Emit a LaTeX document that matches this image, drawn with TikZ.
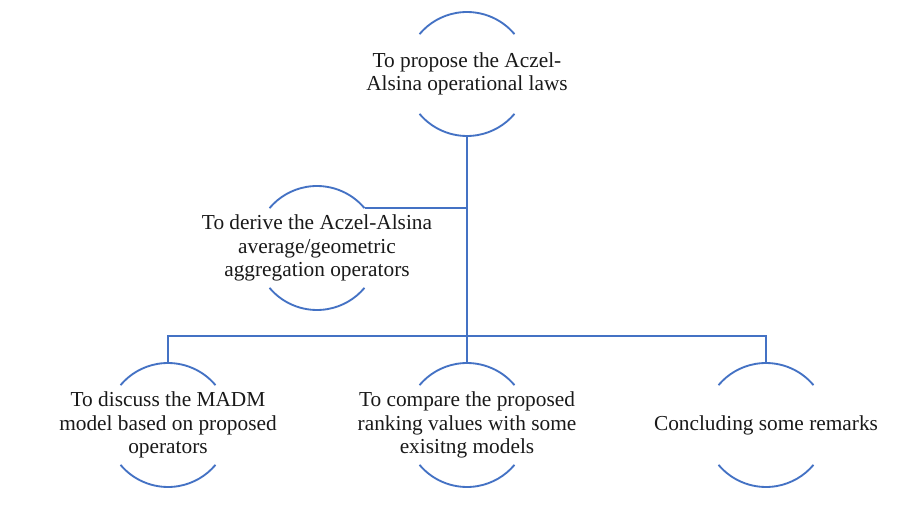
\documentclass[tikz,border=0pt]{standalone}
\usepackage{fontspec}
\setmainfont{Liberation Serif}
\usepackage{tikz}
\definecolor{ringblue}{HTML}{4472C4}
\tikzset{
	goal/.style={align=center,inner sep=0pt,text=black!90,font=\fontsize{16}{17.6}\selectfont},
	ring/.style={draw=ringblue,line width=1.4pt},
	link/.style={draw=ringblue,line width=1.4pt},
}
\begin{document}
\begin{tikzpicture}[x=0.75pt,y=-0.75pt]
	\useasboundingbox (0,0) rectangle (920,516);
	%goals
	\node[goal] (laws) at (467,74) {To propose the Aczel-\\Alsina operational laws};
	\node[goal] (operators) at (317,248) {To derive the Aczel-Alsina\\average/geometric\\aggregation operators};
	\node[goal] (madm) at (168,425) {To discuss the MADM\\model based on proposed\\operators};
	\node[goal] (compare) at (467,425) {To compare the proposed\\ranking values with some\\exisitng models};
	\node[goal] (remarks) at (766,425) {Concluding some remarks};
	%ring caps
	\foreach \n in {laws,operators,madm,compare,remarks}{
		\draw[ring] ([shift={(40:46.5pt)}]\n.center) arc[start angle=40,end angle=140,radius=46.5pt];
		\draw[ring] ([shift={(220:46.5pt)}]\n.center) arc[start angle=220,end angle=320,radius=46.5pt];
	}
	%links
	\coordinate (laws-bottom) at ([yshift=-46.5pt]laws.center);
	\coordinate (compare-top) at ([yshift=46.5pt]compare.center);
	\coordinate (madm-top) at ([yshift=46.5pt]madm.center);
	\coordinate (remarks-top) at ([yshift=46.5pt]remarks.center);
	\coordinate (opjoin) at ([shift={(40:46.5pt)}]operators.center);
	\coordinate (bar) at (467,336);
	\draw[link] (laws-bottom) -- (compare-top);
	\draw[link] (opjoin) -- (opjoin -| laws.center);
	\draw[link] (madm-top) |- (bar) -| (remarks-top);
\end{tikzpicture}
\end{document}
